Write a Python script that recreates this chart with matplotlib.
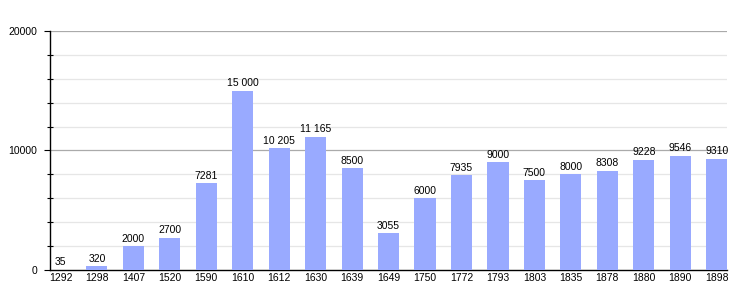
import matplotlib.pyplot as plt
import numpy as np

plt.rcParams['font.family'] = ['Liberation Sans', 'DejaVu Sans']

# population by year
years = ['1292', '1298', '1407', '1520', '1590', '1610', '1612', '1630', '1639', '1649',
         '1750', '1772', '1793', '1803', '1835', '1878', '1880', '1890', '1898']
population = [35, 320, 2000, 2700, 7281, 15000, 10205, 11165, 8500, 3055,
              6000, 7935, 9000, 7500, 8000, 8308, 9228, 9546, 9310]
bar_labels = ['35', '320', '2000', '2700', '7281', '15 000', '10 205', '11 165', '8500', '3055',
              '6000', '7935', '9000', '7500', '8000', '8308', '9228', '9546', '9310']

fig = plt.figure(figsize=(7.56, 3.0), dpi=100)
ax = fig.add_axes([0.066, 0.1, 0.896, 0.797])

x = np.arange(len(years))
ax.bar(x, population, width=0.58, color='#99aaff', zorder=3)

for xi, v, lab in zip(x, population, bar_labels):
    ax.text(xi, v + 200, lab, ha='center', va='bottom', fontsize=7.5, zorder=4)

ax.set_xlim(-0.29, len(years) - 1 + 0.29)
ax.set_ylim(0, 20000)

# grid lines: light minor every 2000, darker at 10000 / 20000
for g in range(2000, 20001, 2000):
    if g % 10000 == 0:
        ax.axhline(g, color='#aaaaaa', lw=0.9, zorder=1)
    else:
        ax.axhline(g, color='#e6e6e6', lw=0.9, zorder=1)

ax.set_yticks([0, 10000, 20000])
ax.set_yticks([g for g in range(2000, 20000, 2000) if g % 10000], minor=True)
ax.set_yticklabels(['0', '10000', '20000'], fontsize=7.5)
ax.tick_params(axis='y', which='major', length=4, width=0.8, direction='out', pad=5)
ax.tick_params(axis='y', which='minor', length=4, width=0.8, direction='inout')

ax.set_xticks(x)
ax.set_xticklabels(years, fontsize=7.5)
ax.tick_params(axis='x', length=0, pad=2)

for s in ['top', 'right']:
    ax.spines[s].set_visible(False)
ax.spines['left'].set_color('black')
ax.spines['bottom'].set_color('black')
ax.spines['left'].set_linewidth(1)
ax.spines['bottom'].set_linewidth(1)

fig.savefig('out.png', dpi=100)
